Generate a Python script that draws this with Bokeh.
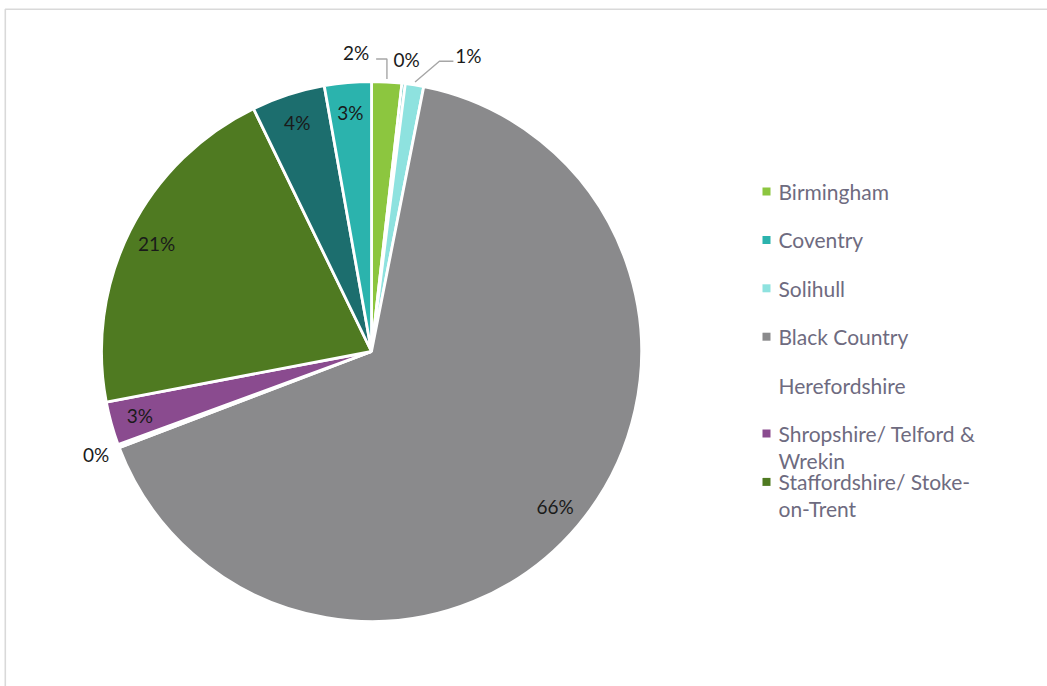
import math
import textwrap
from bokeh.plotting import figure
from bokeh.models import Range1d
from bokeh.core.properties import value
from bokeh.embed import file_html
from bokeh.resources import INLINE

# ---------------- data ----------------
regions = ["Birmingham", "Coventry", "Solihull", "Black Country", "Herefordshire",
           "Shropshire/ Telford & Wrekin", "Staffordshire/ Stoke-on-Trent",
           "Warwickshire", "Worcestershire"]
shares = [1.8, 0.2, 1.1, 66.1, 0.2, 2.6, 20.8, 4.4, 2.8]
colors = ["#8cc63f", "#2bb3ad", "#8ee2df", "#8a8a8c", "#ffffff",
          "#8a4b8f", "#4f7a21", "#1c6e6e", "#2bb3ad"]
legend_count = 7  # legend in the original is clipped after 7 entries

# ---------------- layout / style ----------------
W, H = 1047, 686
CX, CY, R = 371, 351, 270          # pie centre/radius in image pixels (y down)
FONT = "Lato"
label_nudge = {"Birmingham": (-32, -5), "Solihull": (50, -6)}

def fy(y):
    return H - y

p = figure(width=W, height=H, x_range=Range1d(0, W), y_range=Range1d(0, H),
           output_backend="svg", toolbar_location=None,
           x_axis_type=None, y_axis_type=None, min_border=0)
p.outline_line_color = None
p.grid.visible = False
p.background_fill_color = "white"

# chart frame (left & top edges visible)
p.line([4.8, 4.8, W + 10], [fy(H + 10), fy(8.8), fy(8.8)], line_color="#d9d9d9", line_width=1.6)

total = sum(shares)
fr = [s / total for s in shares]
starts, ends, mids = [], [], []
c = 0.0
for f in fr:
    starts.append(c)
    c += f
    ends.append(c)
    mids.append(starts[-1] + f / 2)

def ang(frac):
    return math.pi / 2 - 2 * math.pi * frac

p.wedge(x=[CX] * len(shares), y=[fy(CY)] * len(shares), radius=R,
        start_angle=[ang(s) for s in starts], end_angle=[ang(e) for e in ends],
        direction="clock", fill_color=colors, line_color="white", line_width=2.8)

in_x, in_y, in_t = [], [], []
out_x, out_y, out_t = [], [], []
lead_xs, lead_ys = [], []
for name, s, m in zip(regions, shares, mids):
    t = f"{round(s)}%"
    th = 2 * math.pi * m
    sx, sy = math.sin(th), math.cos(th)
    if s >= 2.5:
        in_x.append(CX + 0.89 * R * sx)
        in_y.append(fy(CY - 0.89 * R * sy))
        in_t.append(t)
    else:
        lx = CX + (R + 24) * sx
        ly = CY - (R + 24) * sy
        if name in label_nudge:
            dx, dy = label_nudge[name]
            lx += dx
            ly += dy
            x0 = CX + (R + 3) * sx
            y0 = CY - (R + 3) * sy
            half = 13
            ey = ly + 6
            if lx > x0:
                ex = lx - half - 2
                elbow = x0 if abs(ex - x0) < 20 else ex - 14
            else:
                ex = lx + half + 7
                elbow = x0 if abs(ex - x0) < 20 else ex + 14
            lead_xs.append([x0, elbow, ex])
            lead_ys.append([fy(y0), fy(ey), fy(ey)])
        out_x.append(lx)
        out_y.append(fy(ly))
        out_t.append(t)

p.multi_line(xs=lead_xs, ys=lead_ys, line_color="#a6a6a6", line_width=1.4)
p.text(x=in_x, y=in_y, text=in_t, text_font=value(FONT), text_font_size="19px",
       text_color="#1a1a1a", text_align="center", text_baseline="middle")
p.text(x=out_x, y=out_y, text=out_t, text_font=value(FONT), text_font_size="19px",
       text_color="#1a1a1a", text_align="center", text_baseline="middle")

# legend
LX, LY0, LSTEP, LINE2 = 778, 191, 48.4, 27
mx, my, mc = [], [], []
tx, ty, tt = [], [], []
for i in range(legend_count):
    y = LY0 + i * LSTEP
    if colors[i].lower() != "#ffffff":
        mx.append(LX - 12)
        my.append(fy(y))
        mc.append(colors[i])
    for j, line in enumerate(textwrap.wrap(regions[i], width=21)):
        tx.append(LX)
        ty.append(fy(y + j * LINE2))
        tt.append(line)
p.rect(x=mx, y=my, width=8, height=8, fill_color=mc, line_color=None)
p.text(x=tx, y=ty, text=tt, text_font=value(FONT), text_font_size="21px",
       text_color="#6e6b80", text_align="left", text_baseline="middle")

open("out.html", "w").write(file_html(p, INLINE))
